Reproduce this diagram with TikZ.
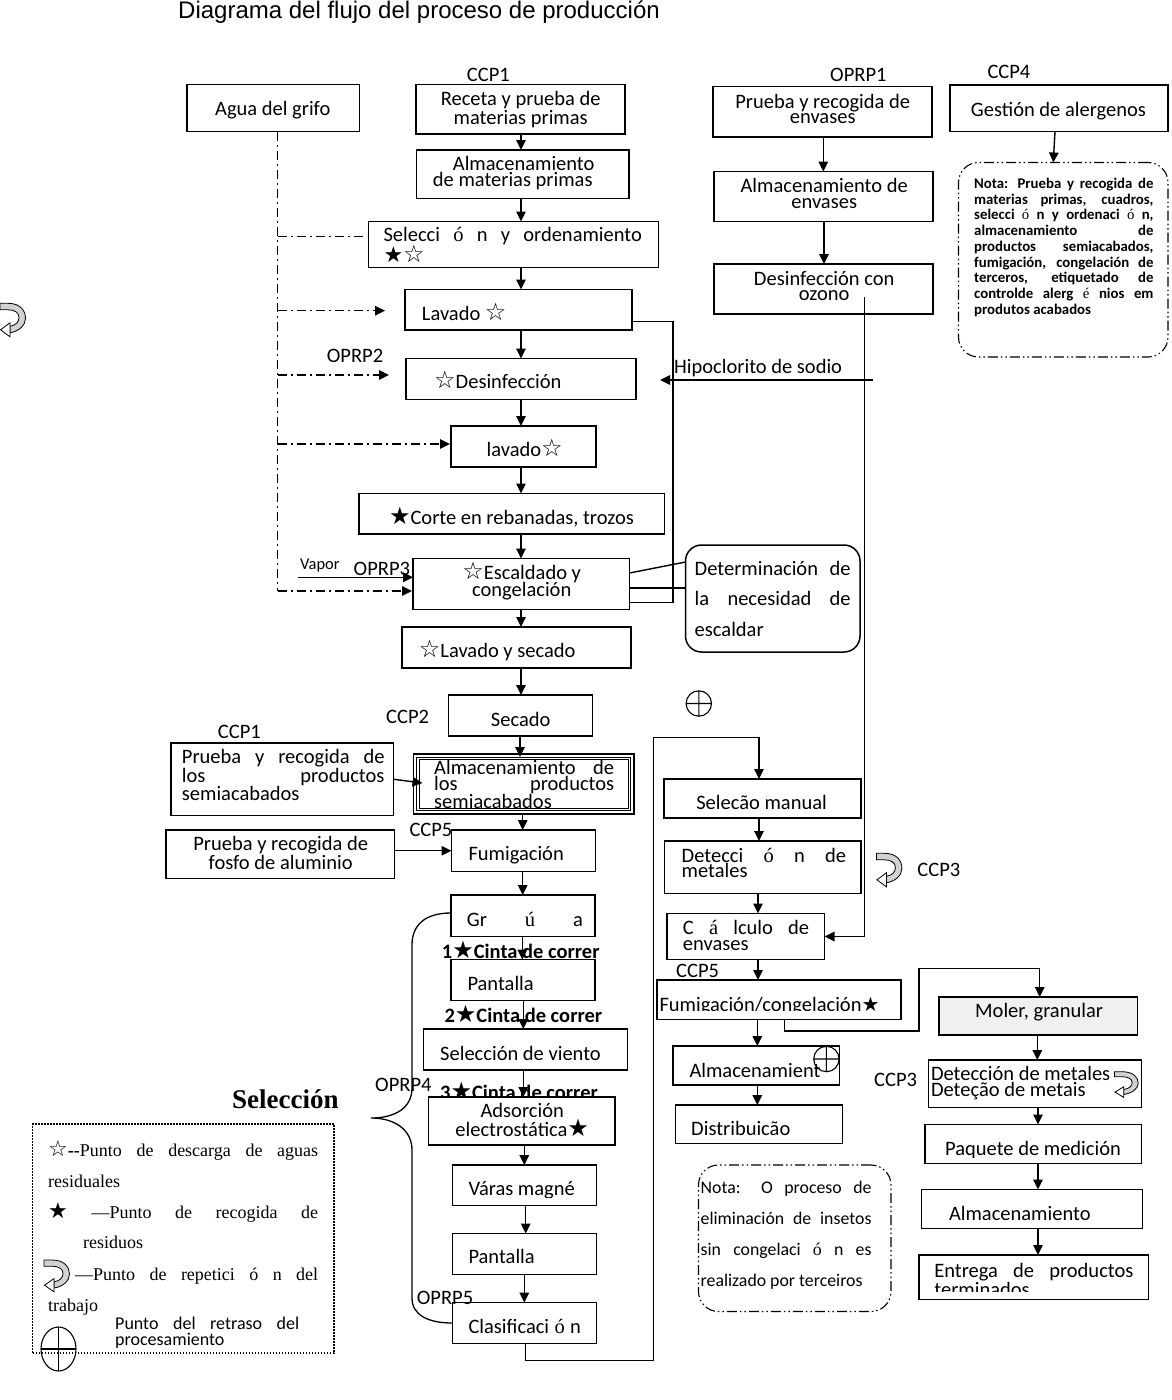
\documentclass[tikz,border=0pt]{standalone}
\usepackage{fontspec}
\setmainfont{Carlito}
\newfontfamily\sym{DejaVu Sans}
\newfontfamily\ser{Liberation Serif}
\newfontfamily\ari{Liberation Sans}
\usetikzlibrary{arrows.meta}
\setlength{\lineskiplimit}{-100pt}
\newcommand\fs{\fontsize{20.5}{16}\selectfont}
\newcommand\fsb{\fontsize{20.5}{16}\selectfont\bfseries}
\newcommand\fnb{\fontsize{14.8}{15.75}\selectfont\bfseries}
\newcommand\lgf{\ser\fontsize{18}{18}\selectfont}
\newcommand\ws{{\sym\fontsize{24}{16}\selectfont ☆}}
\newcommand\bs{{\sym\fontsize{22}{16}\selectfont ★}}
\newcommand\bsm{{\sym\fontsize{20}{16}\selectfont ★}}
\newcommand\bsl{{\sym\fontsize{24}{16}\selectfont ★}}
\newcommand\so{{\ser ó}}
\newcommand\bx[6][]{\node[box,#1,minimum width={(#5-#3)*1pt},minimum height={(#6-#4)*1pt}] (#2) at ({(#3+#5)/2},{(#4+#6)/2}) {};}
\tikzset{
  box/.style={draw, rectangle, line width=1.5pt, fill=white, inner sep=0pt, outer sep=0pt},
  note/.style={line width=1.1pt, rounded corners=20pt, dash pattern=on 10pt off 3pt on 1.5pt off 3pt on 1.5pt off 3pt},
  legendbox/.style={fill=none, line width=1.6pt, dash pattern=on 1.6pt off 1.4pt},
  txt/.style={inner sep=0pt, anchor=base west, font=\fs},
  ln/.style={line width=1.4pt},
  arr/.style={ln, -{Triangle[length=10pt,width=9.5pt]}},
  dd/.style={line width=1.3pt, dash pattern=on 9pt off 4pt on 2pt off 4pt},
  ddarr/.style={dd, -{Triangle[length=10pt,width=9.5pt]}},
  rep/.pic={
    \draw[line width=0.8pt, fill=black!18] (0,0) -- (8,0) .. controls (21,0) and (25.5,8) .. (25.5,15) .. controls (25.5,22) and (19,28) .. (10,29.5) -- (10,23) .. controls (16,22) and (19,18.5) .. (19,14) .. controls (19,9) and (14,6.5) .. (8,6.5) -- (0,6.5) -- cycle;
    \draw[line width=0.8pt, fill=white] (10,19.5) -- (0.5,26.5) -- (10,33.5) -- cycle;
  },
  oplus/.pic={
    \draw[line width=1.1pt] (0,0) circle (12.7pt) (-12.7,0) -- (12.7,0) (0,-12.7) -- (0,12.7);
  }
}
\begin{document}
\begin{tikzpicture}[x=1pt,y=-1pt]
\useasboundingbox (0,0) rectangle (1172,1400);
\fill[white] (0,0) rectangle (1172,1400);

% text hidden partly under a box
\node[txt,font=\fsb] (l-c3) at (440,1099.5) {3\bsl Cinta de correr};

% ---------- boxes ----------
\bx{agua}{187}{84.5}{359.5}{131.5}
\bx{rec}{416}{84.5}{625}{134}
\bx{almp}{416.5}{150}{629}{198.5}
\bx{sel}{368.5}{221.5}{658.5}{267.5}
\bx{lav}{405}{289.5}{632}{330}
\bx{desi}{406}{358.5}{636}{399.5}
\bx{lavb}{451}{426}{596}{467}
\bx{corte}{359}{493.5}{664.5}{534}
\bx{esc}{413}{558.5}{629.5}{609.5}
\bx{lys}{402}{627}{631}{668}
\bx{sec}{448.5}{695}{592.5}{736}
\bx{psemi}{171}{743}{393.5}{815.5}
\bx[line width=1.8pt]{asemi}{413.5}{754}{634}{814}
\bx{fosfo}{166}{830}{394.5}{878.5}
\bx{fum}{451.5}{830}{595.5}{871.5}
\bx{grua}{451}{895}{595}{936.5}
\bx{pana}{451}{959.5}{595}{1000.5}
\bx{viento}{423.5}{1029}{627.5}{1070}
\bx{ads}{428.5}{1097}{615}{1145}
\bx{varas}{452.5}{1165}{596.5}{1205.5}
\bx{panb}{452.5}{1233.5}{596.5}{1274.5}
\bx{clas}{452.5}{1302.5}{596.5}{1343.5}
\bx{penv}{713}{86.5}{932}{137}
\bx{aenv}{714}{171.5}{933}{221.5}
\bx{ozo}{714}{264}{933}{314}
\bx{gest}{950}{85}{1168}{131.5}
\bx[note]{notaa}{958.5}{162.5}{1168}{357}
\bx[rounded corners=16pt]{call}{685.5}{545}{860}{652}
\bx{selm}{664}{779}{861}{818}
\bx{detm}{664.5}{841}{861}{893.5}
\bx{calc}{667}{913.5}{824.5}{959.5}
\bx{fumc}{657}{980}{901}{1019.5}
\bx{almt}{673}{1046}{839.5}{1085}
\bx{dist}{675.5}{1105}{842.5}{1143.5}
\bx[note]{notab}{698.5}{1165}{891}{1311.5}
\bx[fill=black!6]{moler}{939}{997}{1137.5}{1035}
\bx{detmb}{928.5}{1060}{1141.5}{1107.5}
\bx{paq}{925}{1124.5}{1141.5}{1163.5}
\bx{almb}{921.5}{1189.5}{1142.5}{1228.5}
\bx{ent}{919}{1255}{1148.5}{1299.5}
\bx[legendbox]{leg}{32.5}{1124}{334}{1353}
\draw[line width=0.9pt] (416.7,757.2) rectangle (630.8,810.8);
\draw[line width=0.9pt] (419.2,759.7) rectangle (628.3,808.3);

% ---------- texts ----------
\node[txt,font=\ari\fontsize{24}{24}\selectfont] (title) at (178,19) {Diagrama del flujo del proceso de producción};
\node[txt] (t-agua) at (215,115.7) {Agua del grifo};
\node[txt] (l-ccp1a) at (466.7,81.7) {CCP1};
\node[txt] (t-rec) at (420.5,105.7) {\parbox[t]{200pt}{\centering Receta y prueba de\\materias primas}};
\node[txt] (t-almp) at (432.7,170) {\parbox[t]{200pt}{\hspace*{20pt}Almacenamiento\\de materias primas}};
\node[txt] (t-sel) at (383.3,241.7) {\parbox[t]{262pt}{\makebox[258.4pt][s]{Selecci \so{} n y ordenamiento}\\[-1pt]\bs\ws}};
\node[txt] (t-lav) at (421.7,320) {Lavado \ws};
\node[txt] (l-oprp2) at (326.7,362.7) {OPRP2};
\node[txt] (t-desi) at (434,388.3) {\ws Desinfección};
\node[txt] (t-lavb) at (486.5,456.7) {lavado\ws};
\node[txt] (t-corte) at (388.8,524) {\bsl Corte en rebanadas, trozos};
\node[txt,font=\fontsize{16.5}{16}\selectfont] (l-vapor) at (300,569.3) {Vapor};
\node[txt] (l-oprp3) at (353.5,575) {OPRP3};
\node[txt] (t-esc) at (421.5,579.3) {\parbox[t]{200pt}{\centering\ws Escaldado y\\[-1pt]congelación}};
\node[txt] (t-lys) at (418.7,657.3) {\ws Lavado y secado};
\node[txt] (l-hipo) at (674,373.3) {Hipoclorito de sodio};
\node[txt] (t-call) at (694.5,575) {\parbox[t]{160pt}{\baselineskip=30.5pt \makebox[156pt][s]{Determinación de}\\\makebox[156pt][s]{la necesidad de}\\escaldar}};
\node[txt] (l-ccp2) at (386,723.3) {CCP2};
\node[txt] (t-sec) at (490.7,726) {Secado};
\node[txt] (l-ccp1b) at (217.7,738.3) {CCP1};
\node[txt] (t-psemi) at (181.7,763.3) {\parbox[t]{206pt}{\makebox[202.6pt][s]{Prueba y recogida de}\\\makebox[202.6pt][s]{los productos}\\semiacabados}};
\node[txt] (t-asemi) at (434,774) {\parbox[t]{184pt}{\makebox[180pt][s]{Almacenamiento de}\\\makebox[180pt][s]{los productos}\\semiacabados}};
\node[txt] (l-ccp5a) at (409.3,836) {CCP5};
\node[txt] (t-fosfo) at (180.5,850.7) {\parbox[t]{200pt}{\centering Prueba y recogida de\\fosfo de aluminio}};
\node[txt] (t-fum) at (468.3,860.7) {Fumigación};
\node[txt] (t-grua) at (466.7,926.7) {\makebox[116pt][s]{Gr {\ser ú} a}};
\node[txt,font=\fsb] (l-c1) at (441.7,958.3) {1\bsl Cinta de correr};
\node[txt] (t-pana) at (467.3,990) {Pantalla};
\node[txt,font=\fsb] (l-c2) at (444.3,1022.7) {2\bsl Cinta de correr};
\node[txt] (t-viento) at (440,1060) {Selección de viento};
\node[txt] (l-oprp4) at (375,1091.7) {OPRP4};
\node[txt] (t-ads) at (422,1117.3) {\parbox[t]{200pt}{\centering Adsorción\\[0.7pt]electrostática\bsl}};
\begin{scope}
\clip (452.5,1165) rectangle (596.5,1197);
\node[txt] (t-varas) at (468.3,1195.5) {Váras magné};
\end{scope}
\node[txt] (t-panb) at (468.3,1263.3) {Pantalla};
\node[txt] (l-oprp5) at (416.7,1304) {OPRP5};
\node[txt] (t-clas) at (468.3,1333.3) {\makebox[112.4pt][s]{Clasificaci \so{} n}};
\node[txt,font=\ser\bfseries\fontsize{27}{27}\selectfont] (l-selc) at (232,1108) {Selección};

\node[txt] (l-oprp1) at (830,81.7) {OPRP1};
\node[txt] (l-ccp4) at (987.3,78.3) {CCP4};
\node[txt] (t-penv) at (722.5,108.3) {\parbox[t]{200pt}{\centering Prueba y recogida de\\[-1pt]envases}};
\node[txt] (t-gest) at (970.7,116.7) {Gestión de alergenos};
\node[txt] (t-aenv) at (724,192.7) {\parbox[t]{200pt}{\centering Almacenamiento de\\[-0.4pt]envases}};
\node[txt] (t-ozo) at (724,285) {\parbox[t]{200pt}{\centering Desinfección con\\[-0.3pt]ozono}};
\node[txt,font=\fnb] (t-notaa) at (974,188.3) {\parbox[t]{182pt}{%
\makebox[179.3pt][s]{Nota: Prueba y recogida de}\\
\makebox[179.3pt][s]{materias primas, cuadros,}\\
\makebox[179.3pt][s]{selecci {\ser\mdseries ó} n y ordenaci {\ser\mdseries ó} n,}\\
\makebox[179.3pt][s]{almacenamiento de}\\
\makebox[179.3pt][s]{productos semiacabados,}\\
\makebox[179.3pt][s]{fumigación, congelación de}\\
\makebox[179.3pt][s]{terceros, etiquetado de}\\
\makebox[179.3pt][s]{controlde alerg {\ser\mdseries é} nios em}\\
produtos acabados}};
\node[txt] (t-selm) at (696.1,809.3) {Selecão manual};
\node[txt] (t-detm) at (681.5,862.3) {\parbox[t]{168pt}{\makebox[164.3pt][s]{Detecci \so{} n de}\\[-0.6pt]metales}};
\node[txt] (l-ccp3a) at (917.2,876) {CCP3};
\node[txt] (t-calc) at (682.7,934.5) {\parbox[t]{130pt}{\makebox[126.3pt][s]{C {\ser á} lculo de}\\envases}};
\node[txt] (l-ccp5b) at (676,977.3) {CCP5};
\begin{scope}
\clip (657,980) rectangle (901,1010.7);
\node[txt] (t-fumc) at (659.3,1011.5) {Fumigación/congelación\bsm};
\end{scope}
\node[txt] (t-almt) at (689.3,1077.3) {Almacenamient};
\node[txt] (t-dist) at (691,1135) {Distribuicão};
\node[txt,font=\fontsize{17.8}{31.1}\selectfont] (t-notab) at (700.5,1193.3) {\parbox[t]{175pt}{%
\makebox[170.8pt][s]{Nota: O proceso de}\\
\makebox[170.8pt][s]{eliminación de insetos}\\
\makebox[170.8pt][s]{sin congelaci \so{} n es}\\
realizado por terceiros}};
\node[txt] (t-moler) at (975,1017.3) {Moler, granular};
\node[txt] (l-ccp3b) at (874,1086.7) {CCP3};
\node[txt] (t-detmb) at (930.8,1080.7) {\parbox[t]{200pt}{Detección de metales\\[-0.7pt]Deteção de metais}};
\begin{scope}
\clip (925,1124.5) rectangle (1141.5,1157.5);
\node[txt] (t-paq) at (945,1155.7) {Paquete de medición};
\end{scope}
\node[txt] (t-almb) at (948.8,1220) {Almacenamiento};
\begin{scope}
\clip (919,1255) rectangle (1148.5,1291.5);
\node[txt] (t-ent) at (934.2,1277.5) {\parbox[t]{204pt}{\makebox[199pt][s]{Entrega de productos}\\terminados}};
\end{scope}

% legend texts
\node[txt,font=\lgf] (t-leg1) at (48,1156) {\makebox[270pt][s]{{\sym\fontsize{22}{18}\selectfont ☆}\textbf{--}Punto de descarga de aguas}};
\node[txt,font=\lgf] (t-leg2) at (48,1187) {residuales};
\node[txt,font=\lgf] (t-leg3) at (48,1218) {\makebox[270pt][s]{{\sym\fontsize{22}{18}\selectfont ★} —Punto de recogida de}};
\node[txt,font=\lgf] (t-leg4) at (83,1248) {residuos};
\node[txt,font=\lgf] (t-leg5) at (75,1280) {\makebox[243pt][s]{—Punto de repetici ó n del}};
\node[txt,font=\lgf] (t-leg6) at (48,1311) {trabajo};
\node[txt,font=\fontsize{18}{16}\selectfont] (t-leg7) at (115,1329) {\parbox[t]{190pt}{\makebox[184pt][s]{Punto del retraso del}\\procesamiento}};

% ---------- connectors ----------
\foreach \a/\b/\x in {rec/almp/521, almp/sel/521, sel/lav/521, lav/desi/521, desi/lavb/521, lavb/corte/521, corte/esc/521, esc/lys/521, lys/sec/521, asemi/fum/522.7, fum/grua/522.7, grua/pana/522.3, pana/viento/523.3, viento/ads/523.3, ads/varas/524.3, varas/panb/525.7, panb/clas/524.3, penv/aenv/823.3, aenv/ozo/824, selm/detm/759, detm/calc/758, calc/fumc/758, fumc/almt/757.3, almt/dist/757.3, moler/detmb/1037.3, detmb/paq/1038, paq/almb/1038, almb/ent/1038}
  \draw[arr] (\a.south -| \x,0) -- (\b.north -| \x,0);
\draw[arr, shorten >=-3pt] (sec.south -| 520,0) -- (asemi.north -| 520,0);
\draw[arr] (psemi.east) -- ([xshift=9pt,yshift=1pt]asemi.west);
\draw[arr] (fosfo.east |- fum.west) -- (fum.west);
\draw[arr] ([xshift=-4pt]gest.south) -- ([xshift=-10pt]notaa.north);

% tap water
\coordinate (wa) at (277.7,236.7);
\coordinate (wb) at (277.7,310.7);
\coordinate (wc) at (277.7,375);
\coordinate (wd) at (277.7,444);
\coordinate (we) at (277.7,591);
\draw[dd] (agua.south -| 277.7,0) -- (we);
\draw[dd, shorten >=5pt] (wa) -- (sel.west |- wa);
\draw[ddarr, shorten >=20pt] (wb) -- (lav.west |- wb);
\draw[ddarr, shorten >=17pt] (wc) -- (desi.west |- wc);
\draw[ddarr, shorten >=1pt] (wd) -- (lavb.west |- wd);
\draw[ddarr, shorten >=1pt] (we) -- (esc.west |- we);

% vapor, hipoclorito
\coordinate (vap) at (297.6,577.3);
\draw[arr] (vap) -- (esc.west |- vap);
\coordinate (hip) at (873,380);
\draw[arr, shorten >=24pt] (hip) -- (desi.east |- hip);

% lavado -> escaldado, callout pointer
\draw[ln] ([yshift=-12pt]lav.east) -- ++(41,0) |- ([yshift=-18.5pt]esc.east);
\draw[ln] ([yshift=11pt]esc.east) -- (call.west |- 0,562);
\draw[ln] ([yshift=-4pt]esc.east) -- (call.west |- 0,588);

% ozone line
\draw[arr] ([shift={(41,-17)}]ozo.south) |- (calc.east);

% clasificacion loop
\draw[arr] (clas.south -| 525.7,0) |- (653.3,1360.7) -- (653.3,737.3) -| (selm.north -| 759,0);

% fumigacion/congelacion -> moler
\draw[arr] (fumc.south -| 784.6,0) -- ++(0,11.5) -| (918.9,968.3) -| (moler.north -| 1039.7,0);

% brace
\draw[line width=1.3pt] (grua.west |- 0,913) .. controls (425,913) and (412,925) .. (412,945) -- (412,1088) .. controls (412,1108) and (395,1118) .. (371,1118) .. controls (395,1118) and (412,1130) .. (412,1150) -- (412,1298) .. controls (412,1315) and (428,1323) .. (clas.west |- 0,1323);

% icons
\pic at (0,303.3) {rep};
\pic at (876.4,853.3) {rep};
\pic[xscale=0.93,yscale=0.77] at (1114.5,1071.7) {rep};
\pic[yscale=0.95] at (44,1260) {rep};
\pic at (698.8,703.5) {oplus};
\pic at (826.4,1059) {oplus};
\draw[line width=1.1pt] (58.5,1349) ellipse [x radius=17.5pt, y radius=22pt];
\draw[line width=1.1pt] (41,1349) -- (76,1349) (58.5,1327) -- (58.5,1371);
\end{tikzpicture}
\end{document}
